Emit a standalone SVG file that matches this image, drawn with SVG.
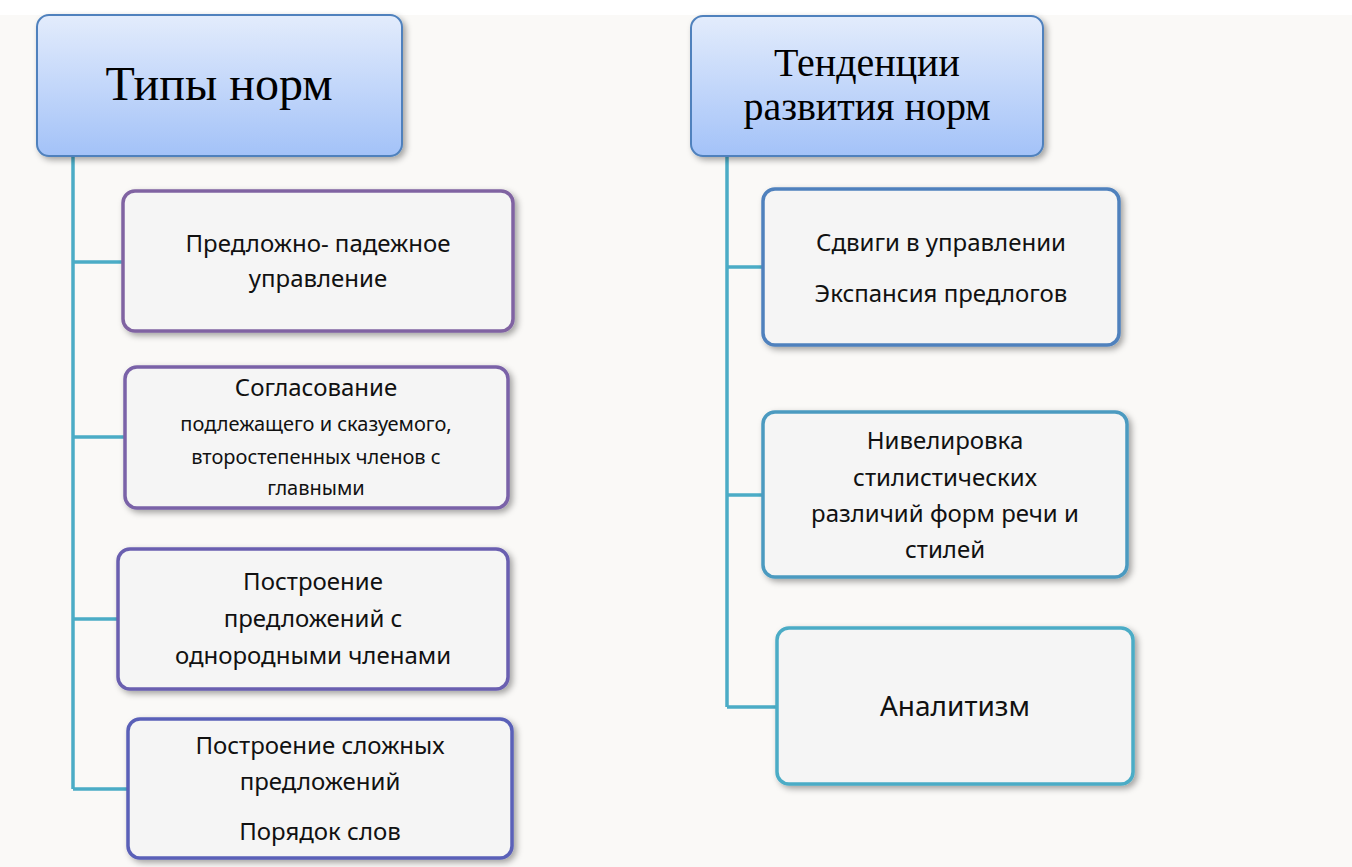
<svg xmlns="http://www.w3.org/2000/svg" width="1352" height="867" viewBox="0 0 1352 867">
<defs>
<linearGradient id="hg" x1="0" y1="0" x2="0" y2="1"><stop offset="0" stop-color="#e3ecfc"/><stop offset="1" stop-color="#a3c2f8"/></linearGradient>
<filter id="sh" x="-10%" y="-10%" width="125%" height="125%"><feDropShadow dx="3" dy="3" stdDeviation="3" flood-color="#000" flood-opacity="0.35"/></filter>
</defs>
<style>
.hd{fill:url(#hg);stroke:#4f81bd;stroke-width:2;filter:url(#sh)}
.bx{fill:#f5f5f5;stroke-width:3.5;filter:url(#sh)}
.tt{font-family:"Liberation Serif",serif;font-size:48px;fill:#000;text-anchor:middle}
.tx{font-family:"Noto Sans","Open Sans",sans-serif;font-size:24px;fill:#111;text-anchor:middle}
.sm{font-size:20px}
.ln{stroke:#4bacc6;stroke-width:3.5;fill:none}
</style>
<rect x="0" y="0" width="1352" height="867" fill="#fff"/>
<rect x="0" y="15" width="1352" height="852" fill="#faf9f7"/>
<g id="connectors">
<path class="ln" d="M73 156V789M73 262H123M73 437H125M73 619H118M73 789H128"/>
<path class="ln" d="M727 156V707M727 267H763M727 495H763M727 707H777"/>
</g>
<g id="h1"><rect class="hd" x="37" y="15" width="365" height="141" rx="12"/><text class="tt" x="219" y="100">Типы норм</text></g>
<g id="h2"><rect class="hd" x="691" y="16" width="352" height="140" rx="12"/><text class="tt" x="867" y="76" style="font-size:40px">Тенденции</text><text class="tt" x="867" y="120" style="font-size:40px">развития норм</text></g>
<g id="b1"><rect class="bx" x="123" y="191" width="390" height="140" rx="12" stroke="#8064a2"/><text class="tx" x="318" y="252">Предложно- падежное</text><text class="tx" x="318" y="287">управление</text></g>
<g id="b2"><rect class="bx" x="125" y="367" width="383" height="141" rx="12" stroke="#7a62a8"/><text class="tx" x="316" y="396">Согласование</text><text class="tx sm" x="316" y="431">подлежащего и сказуемого,</text><text class="tx sm" x="316" y="464">второстепенных членов с</text><text class="tx sm" x="316" y="495">главными</text></g>
<g id="b3"><rect class="bx" x="118" y="549" width="390" height="140" rx="12" stroke="#6a5fb0"/><text class="tx" x="313" y="590">Построение</text><text class="tx" x="313" y="627">предложений с</text><text class="tx" x="313" y="664">однородными  членами</text></g>
<g id="b4"><rect class="bx" x="128" y="719" width="384" height="139" rx="12" stroke="#5a60b8"/><text class="tx" x="320" y="754">Построение сложных</text><text class="tx" x="320" y="790">предложений</text><text class="tx" x="320" y="840">Порядок слов</text></g>
<g id="r1"><rect class="bx" x="763" y="189" width="356" height="156" rx="12" stroke="#4f81bd"/><text class="tx" x="941" y="251">Сдвиги в управлении</text><text class="tx" x="941" y="302">Экспансия предлогов</text></g>
<g id="r2"><rect class="bx" x="763" y="412" width="364" height="165" rx="12" stroke="#4b9ac0"/><text class="tx" x="945" y="449">Нивелировка</text><text class="tx" x="945" y="486">стилистических</text><text class="tx" x="945" y="522">различий форм речи и</text><text class="tx" x="945" y="558">стилей</text></g>
<g id="r3"><rect class="bx" x="777" y="628" width="356" height="156" rx="12" stroke="#4bacc6"/><text class="tx" x="955" y="716" style="font-size:28px">Аналитизм</text></g>
</svg>
